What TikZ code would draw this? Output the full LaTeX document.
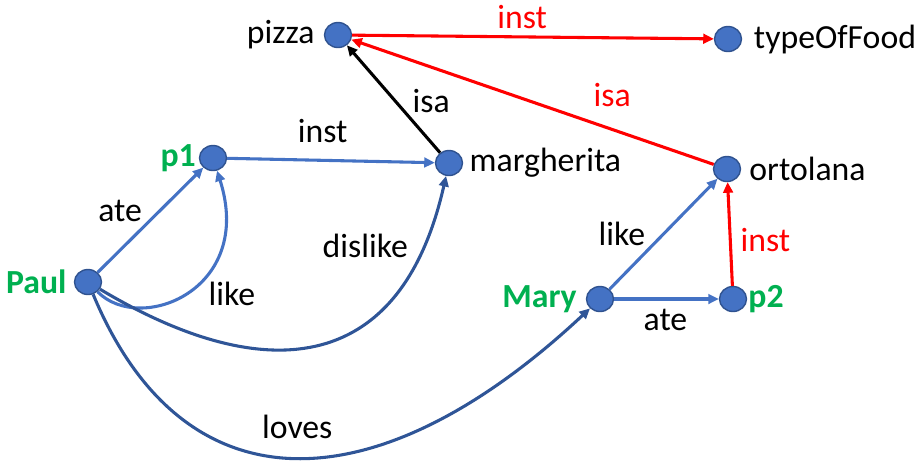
\documentclass[tikz,border=0pt]{standalone}
\usepackage{xcolor}
\usepackage{fontspec}
\setmainfont{Carlito}
\usepackage{tikz}
\usetikzlibrary{arrows.meta,shapes.geometric}

\definecolor{nodeblue}{HTML}{4472C4}
\definecolor{nodeedge}{HTML}{2F528F}
\definecolor{darkblue}{HTML}{2F5597}
\definecolor{namegreen}{HTML}{00B050}

\newcommand{\txtsize}{\fontsize{19.2}{23}\selectfont}

\tikzset{
	dot/.style={ellipse, fill=nodeblue, draw=nodeedge, line width=0.8pt, minimum width=0.54cm, minimum height=0.5cm, inner sep=0},
	who/.style={font=\txtsize\bfseries, text=namegreen, inner sep=0},
	thing/.style={text=black, inner sep=0},
	rel/.style={line width=1.75pt, -{Triangle[length=6pt,width=5.5pt]}},
	lbl/.style={inner sep=0, text=black},
	rlbl/.style={inner sep=0, text=red},
}

\begin{document}
\begin{tikzpicture}[x=0.02cm, y=-0.02cm, font=\txtsize]
	\useasboundingbox (0,0) rectangle (920,468);
	% Nodes:
	\node[dot, label={[thing, label distance=5pt]left:pizza}] (Pizza) at (338,35) {};
	\node[dot, label={[thing, label distance=6.5pt]right:typeOfFood}] (Food) at (728,39) {};
	\node[dot, label={[who, label distance=1.5pt]left:p1}] (P1) at (213,158) {};
	\node[dot, label={[thing, label distance=3.5pt]right:margherita}] (Marg) at (449,163) {};
	\node[dot, label={[thing, label distance=4.5pt]right:ortolana}] (Orto) at (727,169) {};
	\node[dot, label={[who, label distance=4pt]left:Paul}] (Paul) at (88,282) {};
	\node[dot, label={[who, label distance=5pt]left:Mary}] (Mary) at (600,299) {};
	\node[dot, label={[who, label distance=0.5pt]right:p2}] (P2) at (733,299) {};
	% Relations:
	\draw[rel, red] (Pizza) -- node[rlbl, pos=.47, above=4pt] {inst} (Food);
	\draw[rel, red] (Orto) -- node[rlbl, pos=.28, above=12pt] {isa} (Pizza);
	\draw[rel, black] (Marg) -- node[lbl, pos=.48, right=9pt] {isa} (Pizza);
	\draw[rel, nodeblue] (P1) -- node[lbl, pos=.46, above=9pt] {inst} (Marg);
	\draw[rel, nodeblue] (Paul) -- node[lbl, pos=.45, above left=1pt] {ate} (P1);
	\draw[rel, nodeblue] (Paul) .. controls (140,335) and (255,290) .. (P1) node[lbl, pos=.6, below right=2pt] {like};
	\draw[rel, darkblue] (Paul) .. controls (260,385) and (400,380) .. (Marg) node[lbl, pos=.87, left=8pt] {dislike};
	\draw[rel, darkblue] (Paul) .. controls (185,515) and (380,505) .. (Mary) node[lbl, pos=.5, above=10pt] {loves};
	\draw[rel, nodeblue] (Mary) -- node[lbl, pos=.36, above left=1pt] {like} (Orto);
	\draw[rel, nodeblue] (Mary) -- node[lbl, pos=.49, below=5pt] {ate} (P2);
	\draw[rel, red] (P2) -- node[rlbl, pos=.44, right=5pt] {inst} (Orto);
\end{tikzpicture}
\end{document}
